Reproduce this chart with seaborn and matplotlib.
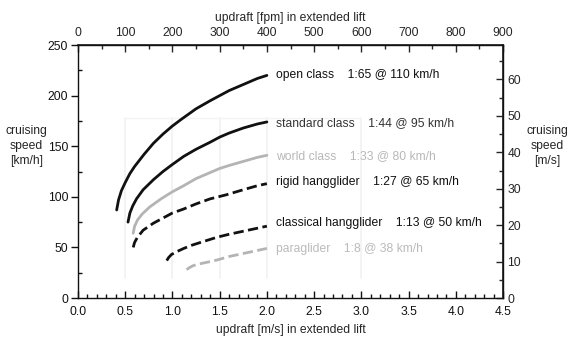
import numpy as np
import pandas as pd
import matplotlib
matplotlib.use("Agg")
import matplotlib.pyplot as plt
import seaborn as sns
from matplotlib.ticker import MultipleLocator, FormatStrFormatter

# Cruising speed [km/h] against updraft [m/s] for each glider class
open_x = [0.41, 0.43, 0.46, 0.50, 0.55, 0.60, 0.70, 0.80, 0.90, 1.00,
          1.10, 1.25, 1.40, 1.50, 1.60, 1.75, 1.90, 2.00]
open_y = [87, 97, 106, 114, 123, 130, 142, 153, 162, 170,
          177, 187, 195, 200, 205, 211, 217, 220]

std_x = [0.53, 0.55, 0.58, 0.62, 0.69, 0.80, 0.90, 1.00, 1.12, 1.25,
         1.40, 1.50, 1.60, 1.75, 1.90, 2.00]
std_y = [75, 84, 91, 98, 107, 117, 125, 132, 140, 147,
         154, 159, 163, 168, 172, 174]

world_x = [0.585, 0.60, 0.63, 0.68, 0.76, 0.88, 1.00, 1.12, 1.25, 1.40,
           1.50, 1.60, 1.75, 1.90, 2.00]
world_y = [64, 71, 77, 83, 90, 98, 105, 111, 118, 124,
           128, 131, 135, 139, 141]

rigid_x = [0.585, 0.60, 0.63, 0.69, 0.80, 0.90, 1.00, 1.12, 1.25, 1.40,
           1.57, 1.75, 1.90, 2.00]
rigid_y = [50, 55, 60, 67, 74, 79, 84, 88, 93, 98,
           102, 107, 111, 113]

classic_x = [0.94, 0.96, 0.99, 1.05, 1.12, 1.20, 1.30, 1.47, 1.60, 1.75,
             1.90, 2.00]
classic_y = [37, 40, 43, 46, 49, 52, 55, 60, 63, 66,
             69, 71]

para_x = [1.15, 1.18, 1.22, 1.30, 1.40, 1.47, 1.60, 1.75, 1.90, 2.00]
para_y = [28, 30, 32, 34, 36, 37.5, 41, 44, 47, 49]

labels = [
    "open class    1:65 @ 110 km/h",
    "standard class    1:44 @ 95 km/h",
    "world class    1:33 @ 80 km/h",
    "rigid hangglider    1:27 @ 65 km/h",
    "classical hangglider    1:13 @ 50 km/h",
    "paraglider    1:8 @ 38 km/h",
]
label_y = [220, 173, 140, 115, 74, 48]

series = [
    (open_x, open_y, "#111111", "-"),
    (std_x, std_y, "#111111", "-"),
    (world_x, world_y, "#b4b4b4", "-"),
    (rigid_x, rigid_y, "#111111", "--"),
    (classic_x, classic_y, "#111111", "--"),
    (para_x, para_y, "#b4b4b4", "--"),
]
label_colors = ["#111111", "#333333", "#b8b8b8", "#111111", "#111111", "#bbbbbb"]

sns.set_theme(style="ticks")
plt.rcParams["font.family"] = ["Liberation Sans", "DejaVu Sans"]

fig = plt.figure(figsize=(5.73, 3.40), dpi=100)
ax = fig.add_axes([0.136, 0.1235, 0.742, 0.744])

# faint guide lines in the background
for gx in [0.5, 1.0, 1.5, 2.0, 3.0]:
    ax.plot([gx, gx], [20, 178], color="#f1f1f1", lw=1.2, zorder=0)
ax.plot([0.5, 3.0], [178, 178], color="#f4f4f4", lw=1.0, zorder=0)

for (xs, ys, col, ls) in series:
    df = pd.DataFrame({"u": xs, "v": ys})
    kw = dict(dashes=(4, 2.5)) if ls == "--" else {}
    sns.lineplot(data=df, x="u", y="v", ax=ax, color=col, lw=2.0,
                 linestyle=ls, sort=False, estimator=None, **kw)

for txt, ty, col in zip(labels, label_y, label_colors):
    ax.text(2.1, ty, txt, color=col, fontsize=8.7, va="center", ha="left")

ax.set_xlim(0, 4.5)
ax.set_ylim(0, 250)
ax.xaxis.set_major_locator(MultipleLocator(0.5))
ax.xaxis.set_minor_locator(MultipleLocator(0.1))
ax.yaxis.set_major_locator(MultipleLocator(50))
ax.yaxis.set_minor_locator(MultipleLocator(25))
ax.xaxis.set_major_formatter(FormatStrFormatter("%.1f"))
ax.set_xlabel("updraft [m/s] in extended lift", fontsize=8.7, labelpad=4)
ax.set_ylabel("")

for sp in ax.spines.values():
    sp.set_color("#111111")
    sp.set_linewidth(1.0)
    sp.set_visible(True)

ax.tick_params(axis="x", which="both", direction="in", colors="#111111",
               labelsize=8.7, width=1.0, pad=6)
ax.tick_params(axis="y", which="major", direction="out", colors="#111111",
               labelsize=8.7, width=1.0, pad=2)
ax.tick_params(axis="y", which="minor", direction="in", colors="#111111", width=1.0)
ax.tick_params(which="major", length=5)
ax.tick_params(which="minor", length=3)

# top axis: feet per minute (1 m/s ~ 200 fpm)
fpm = 200.0
top = ax.secondary_xaxis("top", functions=(lambda v: v * fpm, lambda v: v / fpm))
top.xaxis.set_major_locator(MultipleLocator(100))
top.xaxis.set_minor_locator(MultipleLocator(50))
top.tick_params(which="both", direction="in", labelsize=8.7, width=1.0)
top.tick_params(which="major", length=5, pad=4)
top.tick_params(which="minor", length=3)
top.set_xlabel("updraft [fpm] in extended lift", fontsize=8.7, labelpad=5)

# right axis: metres per second
right = ax.secondary_yaxis("right", functions=(lambda v: v / 3.6, lambda v: v * 3.6))
right.yaxis.set_major_locator(MultipleLocator(10))
right.yaxis.set_minor_locator(MultipleLocator(5))
right.tick_params(which="both", direction="in", labelsize=8.7, width=1.0)
right.tick_params(which="major", length=5, pad=3)
right.tick_params(which="minor", length=3)

fig.text(0.046, 0.57, "cruising\nspeed\n[km/h]", ha="center", va="center",
         fontsize=8.7, linespacing=1.35)
fig.text(0.955, 0.57, "cruising\nspeed\n[m/s]", ha="center", va="center",
         fontsize=8.7, linespacing=1.35)

fig.savefig("out.png", dpi=100)
